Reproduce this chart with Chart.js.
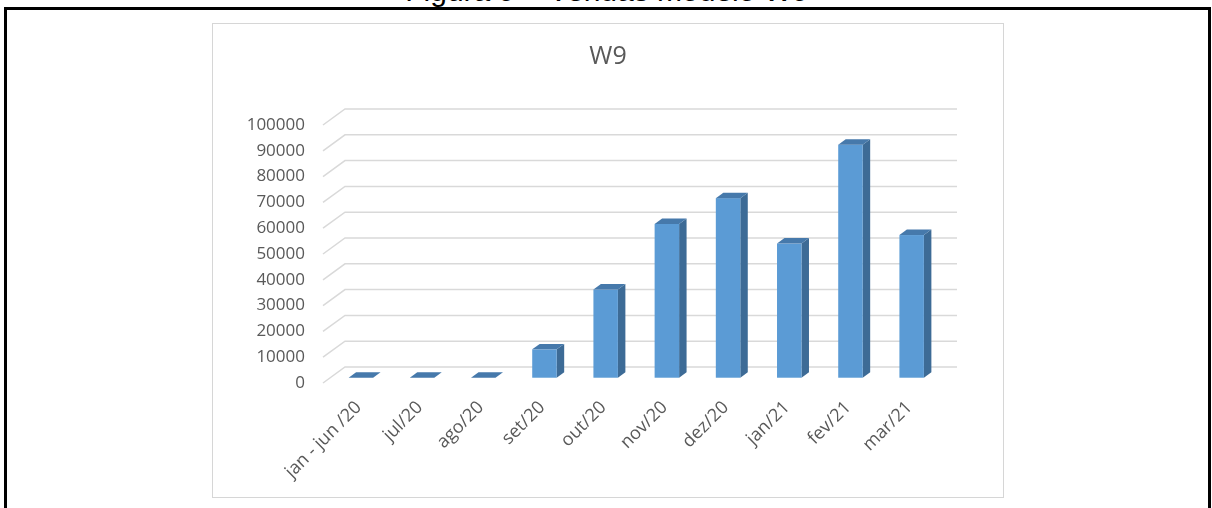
<!DOCTYPE html>
<html>
<head>
<meta charset="utf-8">
<script src="https://cdn.jsdelivr.net/npm/chart.js@4"></script>
<style>
  html, body { margin: 0; padding: 0; background: #fff; width: 1212px; height: 508px; overflow: hidden; position: relative; }
  #caption { position: absolute; left: 0; top: -24px; width: 1214px; text-align: center; font-family: "Liberation Sans", Arial, sans-serif; font-size: 30px; line-height: 30px; color: #000; white-space: nowrap; }
  #frame { position: absolute; left: 4px; top: 7px; width: 1201px; height: 600px; border: 3px solid #000; box-sizing: content-box; }
  #box { position: absolute; left: 212px; top: 23px; width: 790px; height: 473px; border: 1px solid #d6d6d6; background: #fff; }
  #box canvas { display: block; }
</style>
</head>
<body>
<div id="caption">Figura 9 – Vendas modelo W9</div>
<div id="frame"></div>
<div id="box"><canvas id="c" width="790" height="473"></canvas></div>
<script>
const categories = ["jan - jun /20", "jul/20", "ago/20", "set/20", "out/20", "nov/20", "dez/20", "jan/21", "fev/21", "mar/21"];
const sales = [0, 0, 0, 11000, 34200, 59600, 69600, 52000, 90300, 55300];
const chartTitle = "W9";
const yMin = 0, yMax = 100000, yStep = 10000;

const DEPTH_X = 22, DEPTH_Y = 16, F1 = 0.33, F2 = 0.67;

const wall3d = {
  id: 'wall3d',
  beforeDatasetsDraw(chart) {
    const { ctx, chartArea, scales } = chart;
    const y = scales.y;
    ctx.save();
    ctx.strokeStyle = '#d9d9d9';
    ctx.lineWidth = 1.5;
    y.ticks.forEach(t => {
      const yy = y.getPixelForValue(t.value);
      ctx.beginPath();
      ctx.moveTo(chartArea.left, yy);
      ctx.lineTo(chartArea.left + DEPTH_X, yy - DEPTH_Y);
      ctx.lineTo(chartArea.right + DEPTH_X, yy - DEPTH_Y);
      ctx.stroke();
    });
    ctx.restore();
  },
  afterDatasetsDraw(chart) {
    const { ctx } = chart;
    const meta = chart.getDatasetMeta(0);
    const ox1 = DEPTH_X * F1, oy1 = DEPTH_Y * F1;
    const bx = DEPTH_X * (F2 - F1), by = DEPTH_Y * (F2 - F1);
    ctx.save();
    meta.data.forEach(bar => {
      const p = bar.getProps(['x', 'y', 'base', 'width'], true);
      const l = p.x - p.width / 2 + ox1;
      const r = p.x + p.width / 2 + ox1;
      const t = Math.min(p.y, p.base) - oy1;
      const b = p.base - oy1;
      ctx.fillStyle = '#3d6b96';
      ctx.beginPath();
      ctx.moveTo(r, t); ctx.lineTo(r + bx, t - by); ctx.lineTo(r + bx, b - by); ctx.lineTo(r, b); ctx.closePath();
      ctx.fill();
      ctx.fillStyle = '#5b9bd5';
      ctx.fillRect(l, t, r - l, b - t);
      ctx.fillStyle = '#4679ab';
      ctx.beginPath();
      ctx.moveTo(l, t); ctx.lineTo(l + bx, t - by); ctx.lineTo(r + bx, t - by); ctx.lineTo(r, t); ctx.closePath();
      ctx.fill();
    });
    ctx.restore();
  }
};

Chart.defaults.font.family = '"Open Sans", sans-serif';
Chart.defaults.color = '#595959';

new Chart(document.getElementById('c'), {
  type: 'bar',
  data: {
    labels: categories,
    datasets: [{
      label: chartTitle,
      data: sales,
      backgroundColor: 'rgba(0,0,0,0)',
      borderWidth: 0,
      barPercentage: 0.4,
      categoryPercentage: 1.0
    }]
  },
  options: {
    responsive: false,
    animation: false,
    layout: { padding: 0 },
    plugins: {
      legend: { display: false },
      tooltip: { enabled: false },
      title: {
        display: true,
        text: chartTitle,
        color: '#595959',
        font: { size: 25, weight: 'normal' },
        padding: { top: 18, bottom: 53 }
      }
    },
    scales: {
      x: {
        grid: { display: false, drawTicks: false },
        border: { display: false },
        ticks: { maxRotation: 45, minRotation: 45, autoSkip: false, padding: 14, labelOffset: 5, font: { size: 18 }, color: '#595959' },
        afterFit(s) { s.height = 114; }
      },
      y: {
        min: yMin, max: yMax,
        grid: { display: false, drawTicks: false },
        border: { display: false },
        ticks: { stepSize: yStep, padding: 18, font: { size: 17 }, color: '#595959', callback: v => String(v) },
        afterFit(s) { s.width = 110; }
      },
      yRight: {
        position: 'right',
        display: true,
        grid: { display: false, drawTicks: false },
        border: { display: false },
        ticks: { display: false },
        afterFit(s) { s.width = 68; }
      }
    }
  },
  plugins: [wall3d]
});
</script>
</body>
</html>
